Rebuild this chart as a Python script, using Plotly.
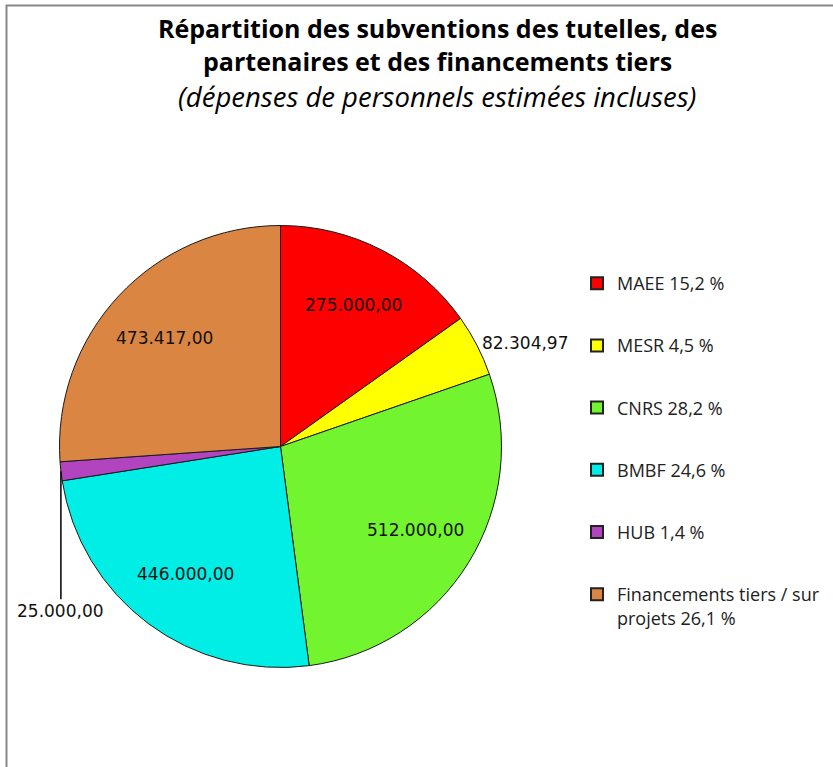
import math
import plotly.graph_objects as go

# ---- data ----
categories = ["MAEE", "MESR", "CNRS", "BMBF", "HUB", "Financements tiers / sur<br>projets"]
values = [275000.00, 82304.97, 512000.00, 446000.00, 25000.00, 473417.00]
colors = ["#FF0000", "#FFFF00", "#72F42F", "#00EEE5", "#B245BF", "#DA8542"]
label_modes = ["inside", "outside", "inside", "inside", "leader", "inside"]

title_lines = [
    "<b>Répartition des subventions des tutelles, des</b>",
    "<b>partenaires et des financements tiers</b>",
    "<i>(dépenses de personnels estimées incluses)</i>",
]

W, H = 833, 767
total = sum(values)

def fr(v, d):
    s = f"{v:,.{d}f}"
    return s.replace(",", "X").replace(".", ",").replace("X", ".")

legend_labels = [f"{c} {fr(100 * v / total, 1)} %" for c, v in zip(categories, values)]

# pie geometry (pixels)
cx, cy, r = 280.5, 446.5, 221
dom_x = [(cx - r) / W, (cx + r) / W]
dom_y = [(H - (cy + r)) / H, (H - (cy - r)) / H]

label_font = dict(family="DejaVu Sans", size=17, color="#111111")

fig = go.Figure()
fig.add_trace(go.Pie(
    labels=categories,
    values=values,
    sort=False,
    direction="clockwise",
    rotation=0,
    marker=dict(colors=colors, line=dict(color="#1a1a1a", width=1)),
    texttemplate="%{value:,.2f}",
    textposition=["outside" if m == "outside" else "none" for m in label_modes],
    textfont=label_font,
    showlegend=False,
    hoverinfo="label+value+percent",
    domain=dict(x=dom_x, y=dom_y),
))

# legend entries
for i, (lab, col) in enumerate(zip(legend_labels, colors)):
    fig.add_trace(go.Scatter(
        x=[None], y=[None], mode="markers", name=lab,
        legendgroup=f"g{i}",
        marker=dict(symbol="square", size=11, color=col, line=dict(color="#222222", width=1)),
    ))

# data labels placed at each slice's mid-angle (computed from the values)
cum = 0.0
for v, mode in zip(values, label_modes):
    mid = (cum + v / 2) / total * 2 * math.pi
    cum += v
    if mode == "inside":
        px = cx + 0.72 * r * math.sin(mid)
        py = cy - 0.72 * r * math.cos(mid)
        fig.add_annotation(
            x=px / W, y=1 - py / H, xref="paper", yref="paper", showarrow=False,
            text=fr(v, 2), font=label_font, xanchor="center", yanchor="middle",
        )
    elif mode == "leader":
        px = cx + r * math.sin(mid)
        py = cy - r * math.cos(mid)
        fig.add_annotation(
            x=px / W, y=1 - py / H, xref="paper", yref="paper",
            text=fr(v, 2), showarrow=True, arrowhead=0, arrowwidth=1.5,
            arrowcolor="#000000", ax=0, ay=128, yanchor="top",
            font=label_font,
        )

title_y = [28, 61, 97]
title_sizes = [25, 25, 27.5]
for t, yy, fs in zip(title_lines, title_y, title_sizes):
    fig.add_annotation(
        x=437 / W, y=1 - yy / H, xref="paper", yref="paper", showarrow=False,
        text=t, xanchor="center", yanchor="middle",
        font=dict(family="Open Sans", size=fs, color="#000000"),
    )

fig.add_shape(type="rect", xref="paper", yref="paper",
              x0=6.5 / W, x1=1.01, y0=-0.01, y1=1 - 5.5 / H,
              line=dict(color="#888888", width=2))

fig.update_layout(
    width=W, height=H,
    margin=dict(l=0, r=0, t=0, b=0),
    paper_bgcolor="white", plot_bgcolor="white",
    separators=",.",
    xaxis=dict(visible=False), yaxis=dict(visible=False),
    legend=dict(
        x=577 / W, y=1 - 265 / H, xanchor="left", yanchor="top",
        font=dict(family="Open Sans", size=18, color="#222222"),
        tracegroupgap=35.8, itemsizing="constant", valign="top",
        bgcolor="rgba(0,0,0,0)",
    ),
)

fig.write_html("out.html")
